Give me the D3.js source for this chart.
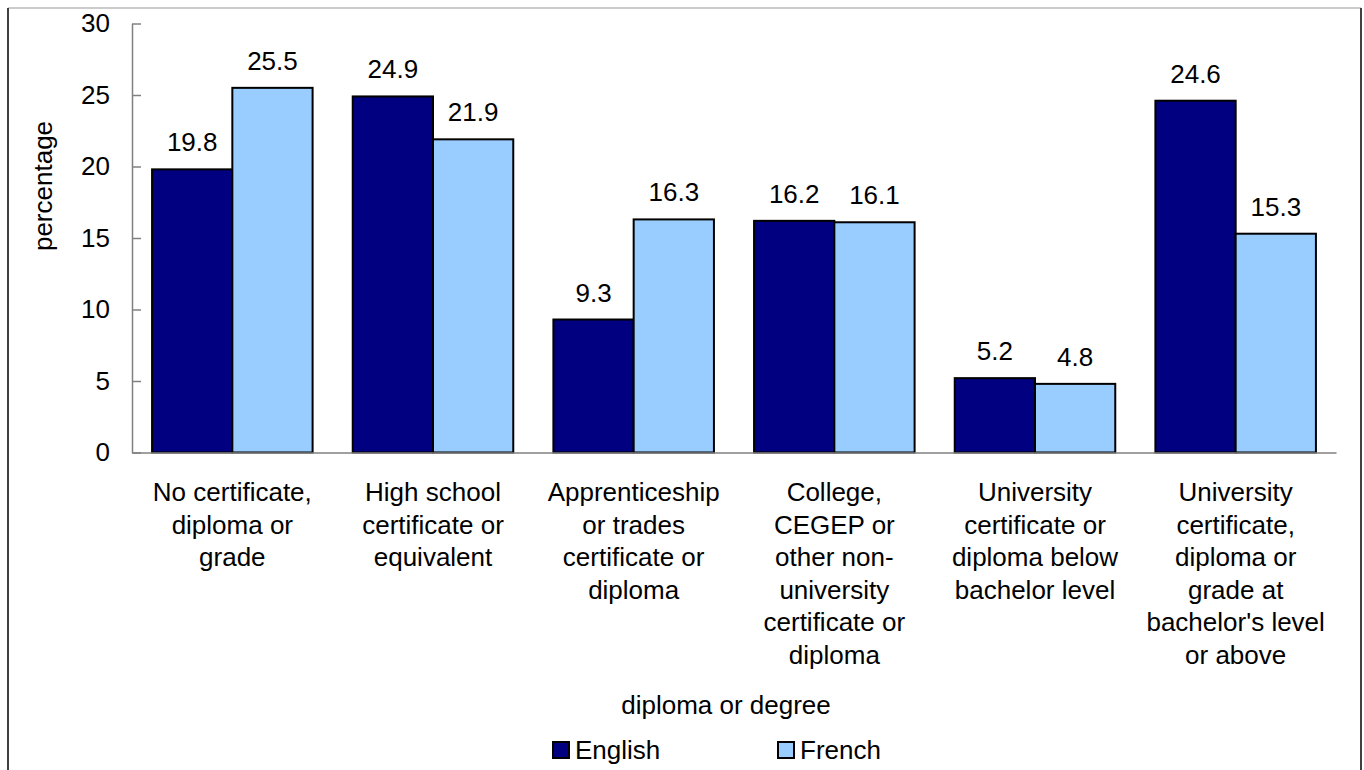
<!DOCTYPE html>
<html>
<head>
<meta charset="utf-8">
<script src="https://cdn.jsdelivr.net/npm/d3@7"></script>
<style>
  html, body { margin: 0; padding: 0; background: #fff; }
  svg { display: block; }
  text { font-family: "Liberation Sans", Arial, sans-serif; fill: #000; }
</style>
</head>
<body>
<script>
const categories = [
  ["No certificate,", "diploma or", "grade"],
  ["High school", "certificate or", "equivalent"],
  ["Apprenticeship", "or trades", "certificate or", "diploma"],
  ["College,", "CEGEP or", "other non-", "university", "certificate or", "diploma"],
  ["University", "certificate or", "diploma below", "bachelor level"],
  ["University", "certificate,", "diploma or", "grade at", "bachelor's level", "or above"]
];
const seriesNames = ["English", "French"];
const english = [19.8, 24.9, 9.3, 16.2, 5.2, 24.6];
const french = [25.5, 21.9, 16.3, 16.1, 4.8, 15.3];
const yTicks = [0, 5, 10, 15, 20, 25, 30];
const colors = ["#000080", "#99CCFF"];

(function () {
const W = 1364, H = 770;
const svg = d3.select("body").append("svg").attr("width", W).attr("height", H);

// outer border
svg.append("line").attr("x1", 8).attr("x2", 1361).attr("y1", 8).attr("y2", 8)
  .attr("stroke", "#9a9a9a").attr("stroke-width", 1.2);
svg.append("line").attr("x1", 8).attr("x2", 8).attr("y1", 8).attr("y2", 780)
  .attr("stroke", "#404040").attr("stroke-width", 2);
svg.append("line").attr("x1", 1361).attr("x2", 1361).attr("y1", 8).attr("y2", 780)
  .attr("stroke", "#404040").attr("stroke-width", 2);

const pLeft = 132, pRight = 1336, pTop = 23.5, pBottom = 452.5;
const idx = d3.range(categories.length);
const x = d3.scaleBand().domain(idx).range([pLeft, pRight]).paddingInner(0.2).paddingOuter(0.1);
const xs = d3.scaleBand().domain([0, 1]).range([0, x.bandwidth()]);
const y = d3.scaleLinear().domain([0, 30]).range([pBottom, pTop]);

const fs = 26;

// y axis
const yAxis = d3.axisLeft(y).tickValues(yTicks).tickSizeInner(-9).tickSizeOuter(0).tickPadding(22);
const gy = svg.append("g").attr("transform", `translate(${pLeft},0)`).call(yAxis);
gy.select(".domain").attr("stroke", "#808080").attr("stroke-width", 1.5);
gy.selectAll(".tick line").attr("stroke", "#808080").attr("stroke-width", 1.5);
gy.selectAll(".tick text").attr("font-size", fs).attr("font-family", "Liberation Sans, Arial, sans-serif").attr("fill", "#000");

// bars
const data = [english, french];
data.forEach((vals, s) => {
  svg.append("g").selectAll("rect").data(vals).join("rect")
    .attr("x", (d, i) => x(i) + xs(s))
    .attr("y", d => y(d))
    .attr("width", xs.bandwidth())
    .attr("height", d => y(0) - y(d))
    .attr("fill", colors[s])
    .attr("stroke", "#000")
    .attr("stroke-width", 2);
  svg.append("g").selectAll("text").data(vals).join("text")
    .attr("x", (d, i) => x(i) + xs(s) + xs.bandwidth() / 2)
    .attr("y", d => y(d) - 18)
    .attr("text-anchor", "middle")
    .attr("font-size", fs)
    .text(d => d.toFixed(1));
});

// x axis baseline
const xAxis = d3.axisBottom(d3.scaleLinear().domain([0, 1]).range([pLeft, pRight])).tickValues([]).tickSizeOuter(0);
const gx = svg.append("g").attr("transform", `translate(0,${pBottom})`).call(xAxis);
gx.select(".domain").attr("stroke", "#808080").attr("stroke-width", 1.5);

// category labels
const lineH = 32.6;
const cat = svg.append("g").selectAll("text").data(categories).join("text")
  .attr("text-anchor", "middle")
  .attr("font-size", fs);
cat.each(function(lines, i) {
  d3.select(this).selectAll("tspan").data(lines).join("tspan")
    .attr("x", x(i) + x.bandwidth() / 2)
    .attr("y", (d, k) => 501 + k * lineH)
    .text(d => d);
});

// axis titles
svg.append("text").attr("x", 726).attr("y", 714).attr("text-anchor", "middle")
  .attr("font-size", fs).text("diploma or degree");
svg.append("text").attr("transform", `translate(52,${(pTop + pBottom) / 2 - 52}) rotate(-90)`)
  .attr("text-anchor", "middle").attr("font-size", fs).text("percentage");

// legend
const legendX = [553, 778];
seriesNames.forEach((name, s) => {
  svg.append("rect").attr("x", legendX[s]).attr("y", 742).attr("width", 16).attr("height", 16)
    .attr("fill", colors[s]).attr("stroke", "#000").attr("stroke-width", 2);
  svg.append("text").attr("x", legendX[s] + 22).attr("y", 759).attr("font-size", fs).text(name);
});
})();
</script>
</body>
</html>
